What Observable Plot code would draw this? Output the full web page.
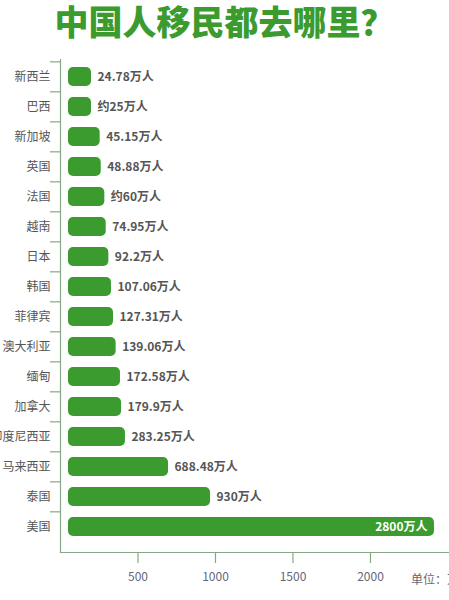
<!DOCTYPE html>
<html>
<head>
<meta charset="utf-8">
<script src="https://cdn.jsdelivr.net/npm/d3@7"></script>
<script src="https://cdn.jsdelivr.net/npm/@observablehq/plot@0.6"></script>
<style>
  html, body { margin: 0; padding: 0; background: #fff; overflow: hidden; width: 449px; height: 600px; }
  body { position: relative; font-family: "Noto Sans CJK SC", "Noto Sans", sans-serif; }
  #title { height: 45px; margin: 0; padding-top: 1px; box-sizing: border-box; font-size: 34px; line-height: 40px; font-weight: 900; color: #3b9b2f; text-align: center; white-space: nowrap; }
  #unit { position: absolute; left: 411px; top: 572px; font-size: 12px; line-height: 14px; color: #667; white-space: nowrap; }
</style>
</head>
<body>
<div id="title">中国人移民都去哪里？</div>
<div id="chart"></div>
<div id="unit">单位：万人</div>
<script>
const countries = ["新西兰","巴西","新加坡","英国","法国","越南","日本","韩国","菲律宾","澳大利亚","缅甸","加拿大","印度尼西亚","马来西亚","泰国","美国"];
const values = [24.78, 25, 45.15, 48.88, 60, 74.95, 92.2, 107.06, 127.31, 139.06, 172.58, 179.9, 283.25, 688.48, 930, 2800];
const valueLabels = ["24.78万人","约25万人","45.15万人","48.88万人","约60万人","74.95万人","92.2万人","107.06万人","127.31万人","139.06万人","172.58万人","179.9万人","283.25万人","688.48万人","930万人","2800万人"];
// bar lengths as drawn in the picture, read against the x axis (the infographic is not to scale)
const drawnLengths = [200, 200, 256, 263, 286, 295, 312, 329, 342, 359, 387, 394, 419, 697, 968, 2413];
const xTicks = [500, 1000, 1500, 2000];

const data = countries.map((name, i) => ({name, value: values[i], label: valueLabels[i], len: drawnLengths[i]}));
const outside = data.slice(0, -1);
const inside = data.slice(-1);

const green = "#3b9b2f";
const axisColor = "#86a886";

const chart = Plot.plot({
  width: 449,
  height: 555,
  marginTop: 14,
  marginLeft: 60,
  marginRight: 0,
  marginBottom: 48,
  style: {fontFamily: "'Noto Sans CJK SC', 'Noto Sans', sans-serif", background: "transparent"},
  x: {domain: [0, 2510], label: null},
  y: {domain: countries, paddingInner: 0.357, paddingOuter: 0.1785, insetTop: 0, insetBottom: 7.7, label: null},
  marks: [
    Plot.frame({anchor: "left", stroke: axisColor, strokeWidth: 1.2}),
    Plot.frame({anchor: "bottom", stroke: axisColor, strokeWidth: 1.2}),
    Plot.axisY({tickSize: 10, tickFormat: () => "", dy: -15.17, stroke: axisColor, strokeWidth: 1.2}),
    Plot.axisY({tickSize: 0, tickPadding: 10, fontSize: 12, fill: "#555"}),
    Plot.axisX(xTicks, {tickSize: 11, tickPadding: 9, fontSize: 12, stroke: axisColor, strokeWidth: 1.2, fill: "#667", label: null, tickFormat: d => String(d)}),
    Plot.barX(data, {x: "len", y: "name", fill: green, insetLeft: 8, rx: 5}),
    Plot.text(outside, {x: "len", y: "name", text: "label", textAnchor: "start", dx: 6, fill: "#555", fontSize: 12, fontWeight: "bold"}),
    Plot.text(inside, {x: "len", y: "name", text: "label", textAnchor: "end", dx: -7, fill: "white", fontSize: 12, fontWeight: "bold"})
  ]
});
document.getElementById("chart").appendChild(chart);
</script>
</body>
</html>
